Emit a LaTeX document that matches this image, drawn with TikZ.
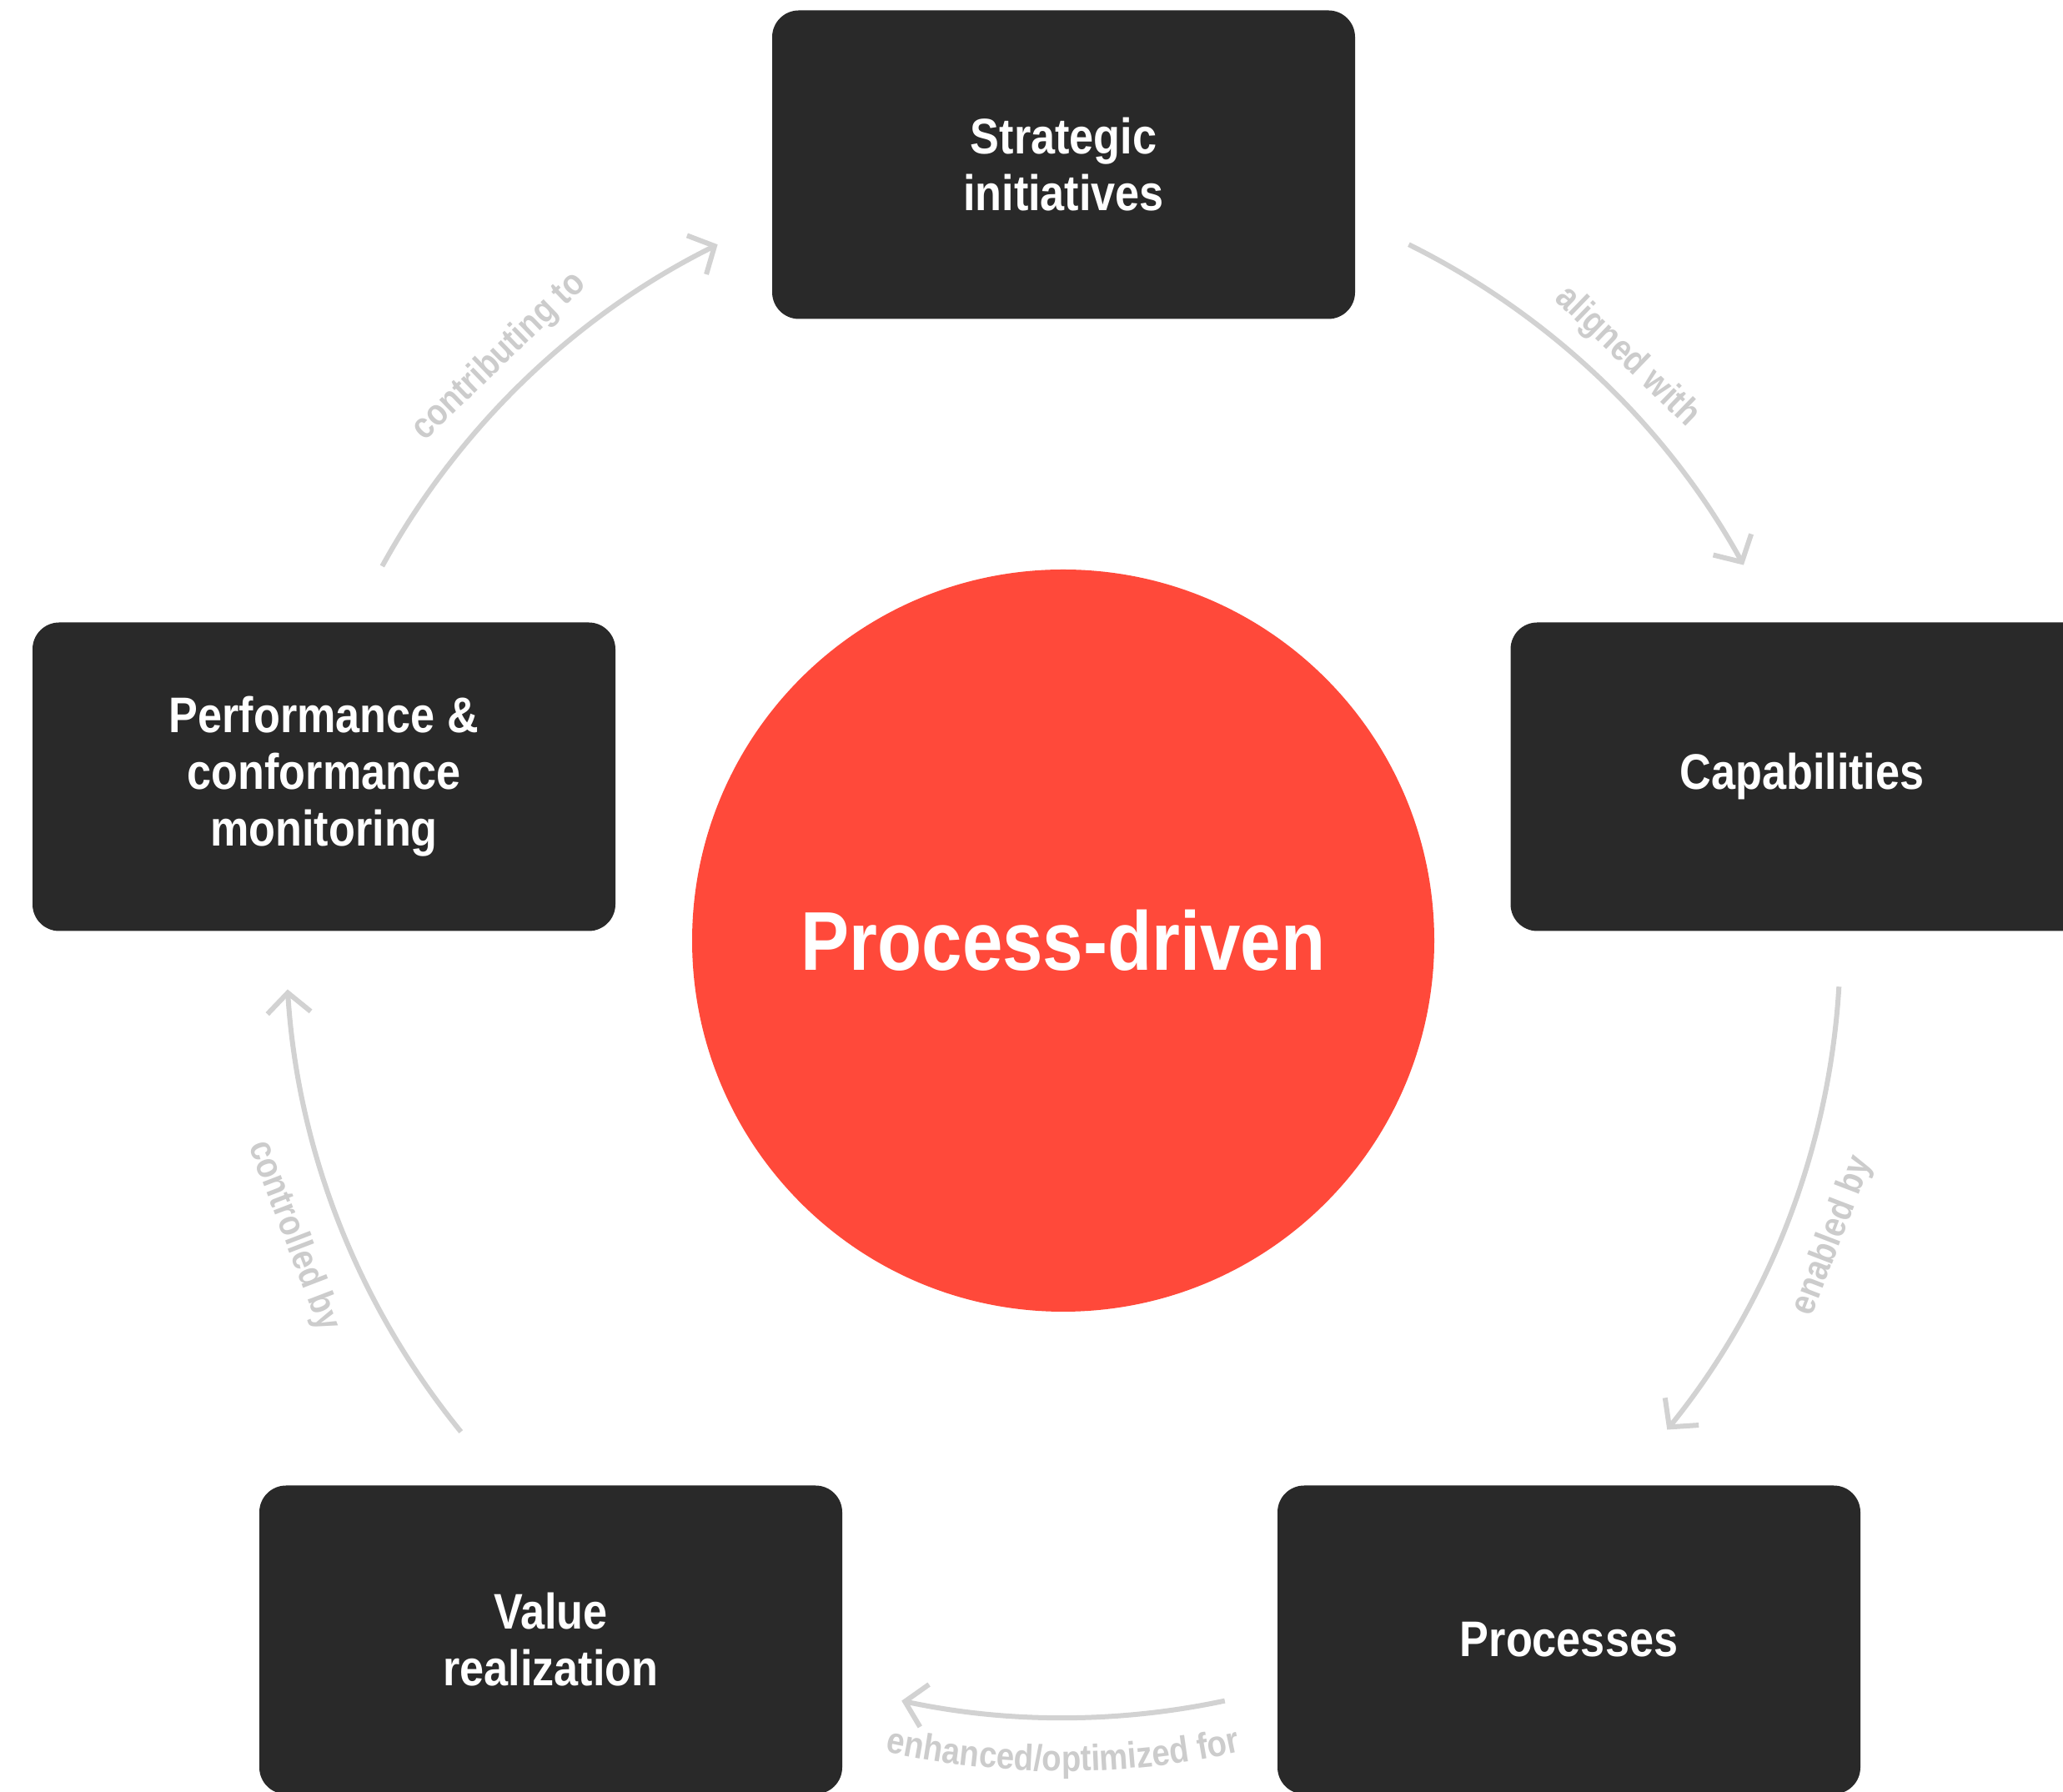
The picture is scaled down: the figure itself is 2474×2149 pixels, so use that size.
\documentclass[tikz,border=0pt]{standalone}
\usepackage{fontspec}
\setmainfont{Liberation Sans}[FakeStretch=0.87]
\usetikzlibrary{arrows.meta,decorations.text,calc}
\definecolor{boxfill}{RGB}{41,41,41}
\definecolor{redfill}{RGB}{255,73,58}
\definecolor{arrowgray}{RGB}{210,210,210}
\definecolor{lblgray}{RGB}{204,204,204}
\newcommand\lblfont{\fontsize{44}{44}\selectfont\bfseries}
\tikzset{
  stagebox/.style={rectangle, rounded corners=32pt, fill=boxfill, minimum width=699pt, minimum height=370pt,
    text=white, align=center, font=\bfseries\fontsize{60}{68}\selectfont, inner sep=0pt},
  hub/.style={circle, fill=redfill, minimum size=890pt, inner sep=0pt, text=white,
    font=\bfseries\fontsize{100}{110}\selectfont},
  flow/.style={draw=arrowgray, line width=6pt, -{Straight Barb[length=24pt,width=52pt,line width=6pt]}},
  flowlabel/.style={text=lblgray, font=\lblfont, inner sep=0pt, anchor=base},
  curvelabel/.style={decorate, decoration={text along path, text align=center, text color=lblgray, text={|\lblfont|#1}}},
}
\begin{document}
\begin{tikzpicture}[x=1pt,y=1pt]
\clip (0,0) rectangle (2474,2149);
\fill[white] (0,0) rectangle (2474,2149);
% hub
\node[hub] (hub) at (1275,1021) {Process-driven};
% stages
\node[stagebox] (strat) at (1275.5,1951.5) {Strategic\\initiatives};
\node[stagebox] (cap) at (2161,1217.5) {Capabilities};
\node[stagebox] (proc) at (1881.5,182.5) {Processes};
\node[stagebox] (val) at (660.5,182.5) {Value\\realization};
\node[stagebox] (perf) at (388.5,1217.5) {Performance \&\\conformance\\monitoring};
% arcs around hub centre
\draw[flow] (hub.center) ++(151.2:932) arc[start angle=151.2, end angle=116.4, radius=932];
\draw[flow] (hub.center) ++(63.6:932) arc[start angle=63.6, end angle=28.9, radius=932];
\draw[flow] (hub.center) ++(-3.4:932) arc[start angle=-3.4, end angle=-39, radius=932];
\draw[flow] (hub.center) ++(-78:932) arc[start angle=-78, end angle=-102, radius=932];
\draw[flow] (hub.center) ++(219.2:932) arc[start angle=219.2, end angle=183.6, radius=932];
% labels
\node[flowlabel, rotate=44] (lcontrib) at ($(hub.center)+(134:962)$) {contributing to};
\node[flowlabel, rotate=-44] (laligned) at ($(hub.center)+(46:962)$) {aligned with};
\node[flowlabel, rotate=69] (lenabled) at ($(hub.center)+(-21:1000)$) {enabled by};
\node[flowlabel, rotate=-69] (lcontrol) at ($(hub.center)+(201:1000)$) {controlled by};
\path[curvelabel={enhanced/optimized for}] (hub.center) ++(-115:996) arc[start angle=-115, end angle=-65, radius=996];
\end{tikzpicture}
\end{document}
